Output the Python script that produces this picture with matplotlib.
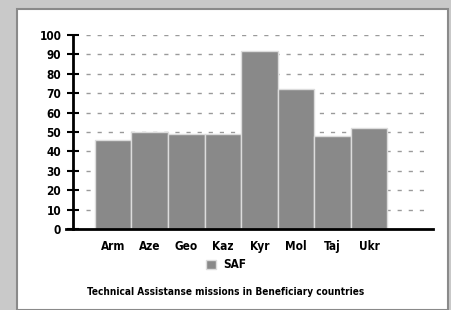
import matplotlib
matplotlib.use('Agg')
from matplotlib import pyplot as plt
from matplotlib.patches import Rectangle

# Technical assistance missions per beneficiary country
countries = ['Arm', 'Aze', 'Geo', 'Kaz', 'Kyr', 'Mol', 'Taj', 'Ukr']
saf_missions = [46, 50, 49, 49, 92, 72, 48, 52]
y_ticks = [0, 10, 20, 30, 40, 50, 60, 70, 80, 90, 100]

plt.rcParams['font.family'] = ['Liberation Sans Narrow', 'DejaVu Sans']
plt.rcParams['font.stretch'] = 'condensed'

fig = plt.figure(figsize=(4.52, 3.10), dpi=100, facecolor='#c9c9c9')

# white panel behind the chart
panel = Rectangle((17 / 452, 0), 431 / 452, 1 - 9 / 310,
                  transform=fig.transFigure, facecolor='white',
                  edgecolor='#8a8a8a', linewidth=1.5, zorder=-5)
fig.patches.append(panel)

ax = fig.add_axes([73 / 452, 1 - 229 / 310, 360 / 452, 194 / 310])
ax.set_facecolor('none')

x = list(range(len(countries)))
bars = ax.bar(x, saf_missions, width=1.0, color='#898989',
              edgecolor='#dcdcdc', linewidth=1.0, zorder=2, label='SAF')

ax.set_xlim(-1.1, 8.75)
ax.set_ylim(0, 100)
ax.set_yticks(y_ticks)
ax.set_xticks(x)
ax.set_xticklabels(countries)

for t in y_ticks[1:]:
    ax.axhline(t, xmin=0.035, xmax=0.99, color='#9a9a9a', linestyle=(0, (3, 5)),
               linewidth=1.0, zorder=1)

for side in ['top', 'right']:
    ax.spines[side].set_visible(False)
ax.spines['left'].set_linewidth(2)
ax.spines['bottom'].set_linewidth(2)
ax.spines['bottom'].set_bounds(-1.3, 8.75)
ax.spines['bottom'].set_zorder(3)

ax.tick_params(axis='y', direction='inout', length=9, width=1.5,
               labelsize=8.5, pad=4)
ax.tick_params(axis='x', length=0, labelsize=8.5, pad=8)
for lbl in ax.get_xticklabels() + ax.get_yticklabels():
    lbl.set_fontweight('bold')

leg = fig.legend(handles=[bars], labels=['SAF'], loc='center',
                 bbox_to_anchor=(0.5, 1 - 265 / 310), frameon=False,
                 handlelength=0.8, handleheight=0.8, handletextpad=0.6,
                 prop={'size': 8.5, 'weight': 'bold', 'stretch': 'condensed'})

fig.text(0.5, 1 - 292 / 310, 'Technical Assistanse missions in Beneficiary countries',
         ha='center', va='center', fontsize=7.2, fontweight='bold')

fig.savefig('out.png', dpi=100, facecolor=fig.get_facecolor())
